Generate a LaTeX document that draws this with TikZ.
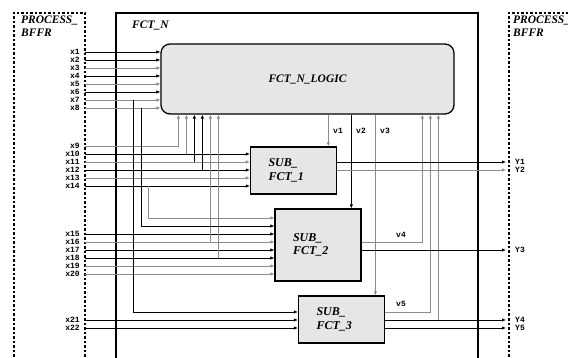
\documentclass[tikz,border=0pt]{standalone}
\usepackage{fontspec}
\setmainfont{Liberation Serif}
\setmonofont{Liberation Mono}
\usetikzlibrary{arrows.meta,positioning,calc}
\definecolor{cW}{HTML}{8C8C8C}
\definecolor{cB}{HTML}{E6E6E6}
\tikzset{wire/.style={line width=0.7pt,-{Latex[length=4pt,width=3.4pt]}},
  wk/.style={draw=black}, wg/.style={draw=cW},
  blk/.style={draw,line width=1.3pt,fill=cB,font=\bfseries\itshape\fontsize{11.5}{13}\selectfont},
  subbox/.style={blk,font=\bfseries\itshape\fontsize{12}{13.5}\selectfont,text width=50pt,inner xsep=18pt,align=left,minimum height=47pt},
  buf/.style={line width=1.2pt,dash pattern=on 2.5pt off 2pt},
  ttl/.style={font=\bfseries\itshape\fontsize{11.5}{13}\selectfont,align=left,inner sep=1pt},
  pin/.style={font=\ttfamily\bfseries\fontsize{8}{8}\selectfont,inner sep=1pt}}

\begin{document}
\begin{tikzpicture}[x=1pt,y=-1pt]
  \useasboundingbox (0,0) rectangle (568,358);
  % buffers and frame
  \draw[buf] (14,370) -- (14,13) -- (85,13) -- (85,370);
  \draw[buf] (509,370) -- (509,13) -- (590,13);
  \draw[line width=1.3pt] (116,370) -- (116,13) -- (478,13) -- (478,370);
  \node[ttl,anchor=north west] (bl) at (20,15) {PROCESS\_\\BFFR};
  \node[ttl,anchor=north west] (br) at (512,15) {PROCESS\_\\BFFR};
  \node[ttl,anchor=north west] (fh) at (131,20) {FCT\_N};
  % blocks
  \node[blk,rounded corners=9pt,minimum width=293pt,minimum height=70pt] (lg) at (307.5,79) {FCT\_N\_LOGIC\hspace{20pt}};
  \node[subbox] (s1) at (293.5,170.5) {SUB\_\\FCT\_1};
  \node[subbox,minimum height=72pt] (s2) at (318,245) {SUB\_\\FCT\_2};
  \node[subbox] (s3) at (341.5,319.5) {SUB\_\\FCT\_3};
  % pins
  \foreach \n/\y in {1/52,2/60,3/68,4/76,5/84,6/92,7/100,8/108,9/146,10/154,11/162,12/170,13/178,14/186,
    15/234,16/242,17/250,18/258,19/266,20/274,21/320,22/328}
    { \node[pin,anchor=east] (x\n) at (81,\y) {x\n}; \coordinate (p\n) at (85,\y); }
  \foreach \n/\y in {1/162,2/170,3/250,4/320,5/328}
    { \node[pin,anchor=west] (y\n) at (514,\y) {Y\n}; \coordinate (o\n) at (506,\y); }
  \foreach \n/\d in {9/18,10/26,11/34,12/42,16/50,18/58,23/262,24/270,25/278}
    \coordinate (u\n) at ([xshift=\d pt]lg.south west);
  \foreach \n/\d in {1/168,2/191,3/215}
    \coordinate (w\n) at ([xshift=\d pt]lg.south west);
  \coordinate (t7) at (133,312); \coordinate (t8) at (141,226); \coordinate (t14) at (148,218);
  \coordinate (r4) at (423,242); \coordinate (r5) at (431,312);
  % inputs
  \foreach \n/\c in {1/wk,2/wk,3/wg,4/wk,5/wg,6/wk,7/wg,8/wg}
    \draw[wire,\c] (p\n) -- (p\n -| lg.west);
  \draw[wire,wg] (p9) -| (u9);
  \foreach \n/\c in {10/wk,11/wg,12/wk,13/wg,14/wk}
    \draw[wire,\c] (p\n) -- (p\n -| s1.west);
  \foreach \n/\c in {15/wk,16/wg,17/wk,18/wk,19/wg,20/wg}
    \draw[wire,\c] (p\n) -- (p\n -| s2.west);
  \foreach \n in {21,22}
    \draw[wire,wk] (p\n) -- (p\n -| s3.west);
  \foreach \n/\c in {10/wg,11/wk,12/wk,16/wg,18/wg}
    \draw[wire,\c] (u\n |- p\n) -- (u\n);
  \draw[wire,wk] (t7 |- p7) -- (t7) -- (t7 -| s3.west);
  \draw[wire,wk] (t8 |- p8) -- (t8) -- (t8 -| s2.west);
  \draw[wire,wg] (t14 |- p14) -- (t14) -- (t14 -| s2.west);
  % internal signals
  \draw[wire,wg] (w1) -- (w1 |- s1.north);
  \draw[wire,wk] (w2) -- (w2 |- s2.north);
  \draw[wire,wg] (w3) -- (w3 |- s3.north);
  \draw[wire,wg] (s2.east |- r4) -| (u23);
  \draw[wire,wg] (s3.east |- r5) -| (u24);
  \draw[wire,wg] (u25 |- o4) -- (u25);
  \node[pin,anchor=west] (v1) at (332,131) {v1};
  \node[pin,anchor=west] (v2) at (355,131) {v2};
  \node[pin,anchor=west] (v3) at (379,131) {v3};
  \node[pin,anchor=west] (v4) at (395,235) {v4};
  \node[pin,anchor=west] (v5) at (395,304) {v5};
  % outputs
  \draw[wire,wk] (s1.east |- o1) -- (o1);
  \draw[wire,wg] (s1.east |- o2) -- (o2);
  \draw[wire,wk] (s2.east |- o3) -- (o3);
  \draw[wire,wk] (s3.east |- o4) -- (o4);
  \draw[wire,wk] (s3.east |- o5) -- (o5);
\end{tikzpicture}
\end{document}
